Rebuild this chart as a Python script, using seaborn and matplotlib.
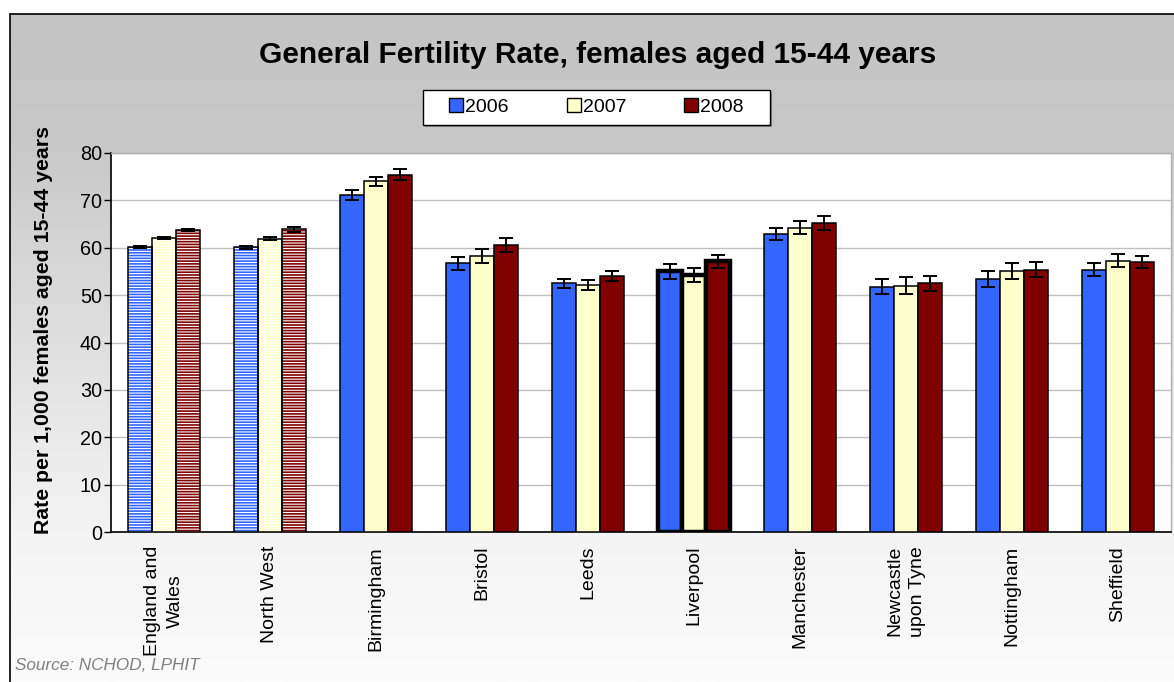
import numpy as np
import pandas as pd
import matplotlib
matplotlib.use("Agg")
import matplotlib.pyplot as plt
from matplotlib.patches import Rectangle
from matplotlib.lines import Line2D
from matplotlib.colors import LinearSegmentedColormap
import seaborn as sns

categories = ["England and\nWales", "North West", "Birmingham", "Bristol", "Leeds",
              "Liverpool", "Manchester", "Newcastle\nupon Tyne", "Nottingham", "Sheffield"]
years = ["2006", "2007", "2008"]
v2006 = [60.2, 60.1, 71.1, 56.7, 52.5, 55.0, 62.9, 51.8, 53.4, 55.4]
v2007 = [62.0, 61.9, 74.0, 58.3, 52.1, 54.2, 64.2, 52.0, 55.1, 57.3]
v2008 = [63.8, 63.9, 75.4, 60.6, 54.0, 57.1, 65.3, 52.5, 55.4, 57.0]
e2006 = [0.2, 0.3, 1.0, 1.3, 1.0, 1.5, 1.3, 1.6, 1.6, 1.3]
e2007 = [0.2, 0.3, 1.0, 1.5, 1.0, 1.5, 1.35, 1.8, 1.65, 1.35]
e2008 = [0.25, 0.5, 1.2, 1.55, 1.0, 1.35, 1.5, 1.6, 1.65, 1.35]
colors = ["#3366FF", "#FFFFCC", "#800000"]
yticks = [0, 10, 20, 30, 40, 50, 60, 70, 80]

sns.set_style("white")
plt.rcParams['font.family'] = ['Liberation Sans', 'DejaVu Sans']
plt.rcParams['hatch.linewidth'] = 0.8
plt.rcParams['text.color'] = 'black'
plt.rcParams['xtick.color'] = 'black'
plt.rcParams['ytick.color'] = 'black'

errs = [e2006, e2007, e2008]
df = pd.DataFrame({
    "cat": categories * 3,
    "year": [y for y in years for _ in categories],
    "val": v2006 + v2007 + v2008,
})

W, H = 1174, 682
fig = plt.figure(figsize=(W / 100, H / 100), dpi=100)
fig.patch.set_facecolor("white")

def fx(px):
    return px / W

def fy(py):
    return 1 - py / H

# gradient background frame
x0 = fx(9.5)
y1 = fy(13.5)
bg = fig.add_axes([x0, 0, 1 - x0, y1], zorder=-5)
grad = np.linspace(0, 1, 512).reshape(-1, 1)
cmap = LinearSegmentedColormap.from_list(
    "g", [(0.0, "#c4c4c4"), (0.19, "#c8c8c8"), (0.5, "#e0e0e0"), (0.78, "#f4f4f4"), (1.0, "#fbfbfb")])
bg.imshow(grad, aspect="auto", cmap=cmap, extent=[0, 1, 0, 1], origin="upper")
bg.set_xlim(0, 1); bg.set_ylim(0, 1)
bg.axis("off")
fig.add_artist(Line2D([x0, x0], [0, y1], color="black", lw=1.2, transform=fig.transFigure))
fig.add_artist(Line2D([x0, 1], [y1, y1], color="black", lw=1.2, transform=fig.transFigure))

ax = fig.add_axes([fx(111), fy(532), (1171 - 111) / W, (532 - 153) / H])
ax.set_facecolor("white")
sns.barplot(data=df, x="cat", y="val", hue="year", palette=colors, width=0.68, saturation=1,
            errorbar=None, edgecolor="black", linewidth=1.1, ax=ax, legend=False, zorder=3)

bar_conts = list(ax.containers)
for hi, cont in enumerate(bar_conts):
    for ci, bar in enumerate(cont.patches):
        x = bar.get_x(); w = bar.get_width(); h = bar.get_height()
        if ci < 2:
            bar.set_edgecolor("none")
            ov = Rectangle((x, 0), w, h, facecolor="none", edgecolor="white",
                           hatch="------", lw=0, zorder=3.5)
            ax.add_patch(ov)
            ol = Rectangle((x, 0), w, h, facecolor="none", edgecolor="black",
                           lw=1.1, zorder=3.6)
            ax.add_patch(ol)
        if categories[ci] == "Liverpool":
            bar.set_linewidth(3.2)
        ax.errorbar(x + w / 2, h, yerr=errs[hi][ci], fmt="none", ecolor="black",
                    elinewidth=1.4, capsize=5, capthick=1.4, zorder=5)

ax.set_ylim(0, 80)
ax.set_xlim(-0.5, len(categories) - 0.5)
ax.set_yticks(yticks)
ax.set_yticklabels([str(t) for t in yticks], fontsize=14.3)
ax.yaxis.grid(True, color="#c0c0c0", lw=1.0, zorder=0)
ax.set_axisbelow(True)
ax.set_xticks(range(len(categories)))
ax.set_xticklabels(categories, rotation=90, fontsize=14)
for lbl in ax.get_xticklabels():
    lbl.set_multialignment("center")
    lbl.set_linespacing(1.45)
ax.set_xticks(np.arange(-0.5, len(categories), 1.0), minor=True)
ax.tick_params(axis="x", which="major", length=0, pad=10)
ax.tick_params(axis="x", which="minor", length=6, width=1, color="black", direction="out")
ax.tick_params(axis="y", length=5, width=1, color="black", direction="out", pad=1.5, left=True)
ax.set_xlabel("")
ax.set_ylabel("")
for s in ["left", "bottom"]:
    ax.spines[s].set_color("black"); ax.spines[s].set_linewidth(1.2)
for s in ["top", "right"]:
    ax.spines[s].set_color("#b0b0b0"); ax.spines[s].set_linewidth(1.0)

fig.text(fx(44), fy(330), "Rate per 1,000 females aged 15-44 years", rotation=90,
         fontsize=15.3, fontweight="bold", ha="center", va="center")
fig.text(fx(598), fy(55), "General Fertility Rate, females aged 15-44 years",
         fontsize=21.5, fontweight="bold", ha="center", va="center")
fig.text(fx(15), fy(666), "Source: NCHOD, LPHIT", fontsize=12.3, style="italic",
         color="#808080", ha="left", va="center")

# legend box (with slight shadow)
fig.add_artist(Rectangle((fx(425), fy(127)), (770 - 423) / W, (125 - 90) / H,
                         transform=fig.transFigure, facecolor="#8a8a8a", edgecolor="none", zorder=4))
fig.add_artist(Rectangle((fx(423), fy(125)), (770 - 423) / W, (125 - 90) / H,
                         transform=fig.transFigure, facecolor="white", edgecolor="black",
                         lw=1.0, zorder=5))
handles = [Line2D([], [], marker="s", ls="none", markersize=10, markerfacecolor=c,
                  markeredgecolor="black", markeredgewidth=1.0) for c in colors]
leg = fig.legend(handles, years, loc="center", bbox_to_anchor=(fx(597), fy(107.5)),
                 ncol=3, frameon=False, fontsize=14,
                 handlelength=0.6, handletextpad=0.15, columnspacing=3.05,
                 borderpad=0.0, borderaxespad=0)
leg.set_zorder(6)

fig.savefig("out.png", dpi=100)
